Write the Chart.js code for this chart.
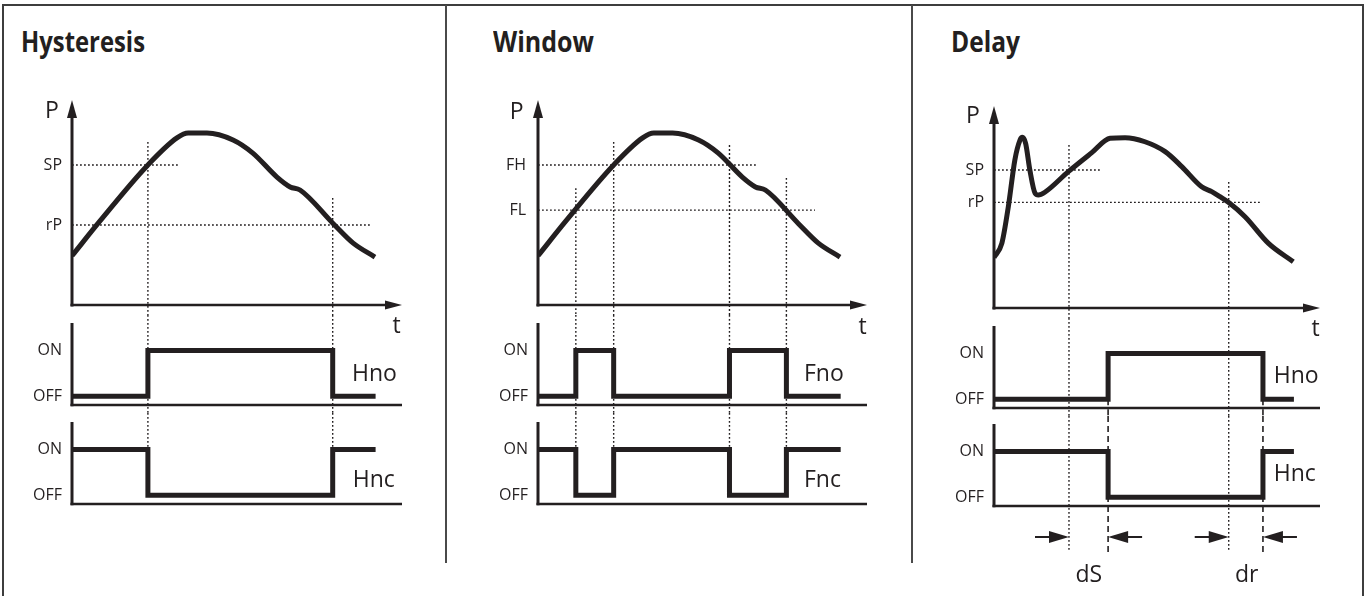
<!DOCTYPE html>
<html>
<head>
<meta charset="utf-8">
<script src="https://cdn.jsdelivr.net/npm/chart.js@4.4.0/dist/chart.umd.min.js"></script>
<style>
html,body{margin:0;padding:0;background:#fff;}
body{width:1365px;height:596px;position:relative;overflow:hidden;font-family:"Open Sans",sans-serif;color:#231f20;}
canvas{position:absolute;}
.frame{position:absolute;left:2px;top:4px;width:1362px;height:600px;border:2px solid #3d3d3d;border-bottom:none;box-sizing:border-box;}
.div{position:absolute;top:5px;width:2px;height:558px;background:#4a4a4a;}
.lbl{position:absolute;white-space:nowrap;line-height:normal;transform-origin:0 0;}
</style>
</head>
<body>
<div class="frame"></div>
<div class="div" style="left:445px"></div>
<div class="div" style="left:911px"></div>
<script>
// ---------------- data ----------------
// time axis runs 0..100 (arbitrary units), pressure axis 0..100
const panelTitles = ['Hysteresis', 'Window', 'Delay'];

// pressure curve used by the Hysteresis and Window diagrams
const curveT = [0, 8.5, 23, 31.8, 35.2, 40.9, 48.8, 54.8, 62.1, 66.1, 69.1, 79.1, 85.2, 91.8];
const curveP = [24, 41, 68.3, 81.5, 83.9, 83.9, 80.5, 74.1, 62.4, 57.6, 56.1, 39.8, 30.2, 23.4];

// pressure curve of the Delay diagram
const delayT = [0, 2.4, 4.4, 6.4, 8.0, 8.7, 9.7, 11.0, 12.6, 13.6, 15.6, 22.8, 30, 35.6, 40.2, 46.3, 52.5, 57.6, 63.7, 66.8, 69.3, 71.9, 77.0, 84.2, 91.8];
const delayP = [25, 32, 50.2, 73.3, 83.2, 84.5, 81.5, 68.3, 56.8, 55.9, 57.3, 67.5, 76.9, 84, 84.3, 82.3, 77.4, 70, 60, 57.6, 55.1, 52.3, 45.2, 32, 22.9];

// threshold levels
const hystLevelNames = ['SP', 'rP'];
const hystLevels = [68.3, 39.0];
const winLevelNames = ['FH', 'FL'];
const winLevels = [68.3, 46.3];
const delayLevelNames = ['SP', 'rP'];
const delayLevels = [68.3, 52.3];

// switching instants
const hystSwitchT = [23, 79];
const winSwitchT = [11.5, 23, 58.2, 75.5];
const delaySwitchT = [23, 72];      // threshold crossings
const delayOutT = [35, 82.5];       // delayed output switching

// output states (1 = ON, 0 = OFF)
const stateNames = ['OFF', 'ON'];
const stateValues = [0, 1];
const hystOutT = [0, 23, 79, 92];
const hnoState = [0, 1, 0, 0];
const hncState = [1, 0, 1, 1];
const winOutT = [0, 11.5, 23, 58.2, 75.5, 92];
const fnoState = [0, 1, 0, 1, 0, 0];
const fncState = [1, 0, 1, 0, 1, 1];
const delayOutStepT = [0, 35, 82.5, 92];
const dHnoState = [0, 1, 0, 0];
const dHncState = [1, 0, 1, 1];

const seriesNames = [['Hno', 'Hnc'], ['Fno', 'Fnc'], ['Hno', 'Hnc']];
const delayNames = ['dS', 'dr'];

// ---------------- drawing helpers ----------------
const INK = '#231f20';
const DOT = [1.8, 2.2];
const DASH = [6, 4];
const AXW = 62, RPAD = 30;

function tri(ctx, tx, ty, dx, dy, len, half) {
  const bx = tx - dx * len, by = ty - dy * len;
  ctx.beginPath();
  ctx.moveTo(tx, ty);
  ctx.lineTo(bx - dy * half, by + dx * half);
  ctx.lineTo(bx + dy * half, by - dx * half);
  ctx.closePath();
  ctx.fill();
}

function makePlugin(cfg) {
  return {
    id: 'diagram',
    beforeDatasetsDraw(chart) {
      const ctx = chart.ctx, a = chart.chartArea, xs = chart.scales.x, ys = chart.scales.y;
      ctx.save();
      ctx.strokeStyle = INK;
      (cfg.hLines || []).forEach(l => {
        const y = ys.getPixelForValue(l.v);
        ctx.setLineDash(DOT); ctx.lineWidth = 1.4;
        ctx.beginPath(); ctx.moveTo(a.left, y); ctx.lineTo(xs.getPixelForValue(l.end), y); ctx.stroke();
      });
      (cfg.vLines || []).forEach(g => {
        const px = xs.getPixelForValue(g.t);
        const y0 = g.fromV != null ? ys.getPixelForValue(g.fromV) : 0;
        let y1;
        if (g.toV != null) y1 = ys.getPixelForValue(g.toV);
        else if (g.below != null) y1 = a.bottom + g.below;
        else y1 = chart.height;
        ctx.setLineDash(g.dash); ctx.lineWidth = g.dash === DASH ? 1.6 : 1.4;
        ctx.beginPath(); ctx.moveTo(px, y0); ctx.lineTo(px, y1); ctx.stroke();
      });
      ctx.restore();
    },
    afterDatasetsDraw(chart) {
      const ctx = chart.ctx, a = chart.chartArea, xs = chart.scales.x;
      ctx.save();
      ctx.strokeStyle = INK; ctx.fillStyle = INK; ctx.setLineDash([]);
      if (cfg.kind === 'P') {
        ctx.lineWidth = 3;
        ctx.beginPath(); ctx.moveTo(a.left, a.bottom + 1.5); ctx.lineTo(a.left, a.top + 12); ctx.stroke();
        tri(ctx, a.left, a.top, 0, -1, 18, 5);
        ctx.lineWidth = 2.5;
        ctx.beginPath(); ctx.moveTo(a.left - 1.5, a.bottom); ctx.lineTo(a.right - 12, a.bottom); ctx.stroke();
        tri(ctx, a.right, a.bottom, 1, 0, 17, 4.5);
      } else {
        ctx.lineWidth = 3;
        ctx.beginPath(); ctx.moveTo(a.left, a.top); ctx.lineTo(a.left, a.bottom + 1.25); ctx.stroke();
        ctx.lineWidth = 2.5;
        ctx.beginPath(); ctx.moveTo(a.left - 1.5, a.bottom); ctx.lineTo(a.right, a.bottom); ctx.stroke();
      }
      (cfg.arrows || []).forEach(ar => {
        const tip = xs.getPixelForValue(ar.t), yy = a.bottom + ar.below;
        ctx.lineWidth = 2;
        ctx.beginPath(); ctx.moveTo(tip - ar.dir * 34, yy); ctx.lineTo(tip - ar.dir * 15, yy); ctx.stroke();
        tri(ctx, tip, yy, ar.dir, 0, 20, 6);
      });
      ctx.restore();
    }
  };
}

function makeChart(box, spec) {
  const c = document.createElement('canvas');
  const left = box.areaL - AXW;
  const width = box.areaR - left + RPAD;
  const height = box.cB - box.cT;
  c.width = width; c.height = height;
  c.style.left = left + 'px'; c.style.top = box.cT + 'px';
  c.style.width = width + 'px'; c.style.height = height + 'px';
  document.body.appendChild(c);
  return new Chart(c, {
    type: 'line',
    data: { datasets: spec.datasets },
    options: {
      responsive: false,
      animation: false,
      events: [],
      layout: { padding: { left: 0, right: RPAD, top: box.aT - box.cT, bottom: box.cB - box.aB } },
      plugins: { legend: { display: false }, tooltip: { enabled: false }, title: { display: false } },
      elements: { point: { radius: 0 } },
      scales: {
        x: { type: 'linear', min: 0, max: 100, display: false },
        y: {
          type: 'linear', min: spec.min, max: spec.max, position: 'left',
          grid: { display: false, drawTicks: false }, border: { display: false },
          ticks: {
            padding: spec.tickPad || 10, autoSkip: false, color: INK,
            font: { family: 'Open Sans', size: 16 },
            callback: (v, i) => spec.tickNames[i]
          },
          afterBuildTicks: s => { s.ticks = spec.tickValues.map(v => ({ value: v })); },
          afterFit: s => { s.width = AXW; s.paddingTop = 0; s.paddingBottom = 0; }
        }
      }
    },
    plugins: [makePlugin(spec.deco)]
  });
}

function curveDs(ts, ps) {
  return {
    data: ts.map((t, i) => ({ x: t, y: ps[i] })),
    borderColor: INK, borderWidth: 5, cubicInterpolationMode: 'monotone',
    borderJoinStyle: 'round', borderCapStyle: 'butt', fill: false
  };
}
function stepDs(ts, vs) {
  return {
    data: ts.map((t, i) => ({ x: t, y: vs[i] })),
    borderColor: INK, borderWidth: 5, stepped: 'before',
    borderJoinStyle: 'miter', borderCapStyle: 'butt', fill: false
  };
}

// ---------------- layout of the three panels ----------------
const layout = [
  { L: 72, R: 402, P: [90, 100, 305, 315], A: [315, 323, 405, 413], B: [413, 422, 504, 560] },
  { L: 538, R: 867, P: [90, 100, 305, 315], A: [315, 323, 405, 413], B: [413, 422, 504, 560] },
  { L: 994, R: 1320, P: [96, 106, 308, 318], A: [318, 326, 408, 416], B: [416, 424, 506, 596] }
];
function box(l, v) { return { areaL: l.L, areaR: l.R, cT: v[0], aT: v[1], aB: v[2], cB: v[3] }; }
const SMIN = -0.19, SMAX = 1.6;

// Hysteresis
const hystTops = [79.5, 52.2];
makeChart(box(layout[0], layout[0].P), {
  min: 0, max: 100, tickNames: hystLevelNames, tickValues: hystLevels,
  datasets: [curveDs(curveT, curveP)],
  deco: { kind: 'P',
    hLines: [{ v: hystLevels[0], end: 32.7 }, { v: hystLevels[1], end: 90.9 }],
    vLines: hystSwitchT.map((t, i) => ({ t, fromV: hystTops[i], dash: DOT })) }
});
makeChart(box(layout[0], layout[0].A), {
  min: SMIN, max: SMAX, tickNames: stateNames, tickValues: stateValues,
  datasets: [stepDs(hystOutT, hnoState)],
  deco: { kind: 'S', vLines: hystSwitchT.map(t => ({ t, dash: DOT })) }
});
makeChart(box(layout[0], layout[0].B), {
  min: SMIN, max: SMAX, tickNames: stateNames, tickValues: stateValues,
  datasets: [stepDs(hystOutT, hncState)],
  deco: { kind: 'S', vLines: hystSwitchT.map(t => ({ t, toV: 1, dash: DOT })) }
});

// Window
const winTops = [57, 79.5, 78, 62];
makeChart(box(layout[1], layout[1].P), {
  min: 0, max: 100, tickNames: winLevelNames, tickValues: winLevels, tickPad: 12,
  datasets: [curveDs(curveT, curveP)],
  deco: { kind: 'P',
    hLines: [{ v: winLevels[0], end: 66.6 }, { v: winLevels[1], end: 84.2 }],
    vLines: winSwitchT.map((t, i) => ({ t, fromV: winTops[i], dash: DOT })) }
});
makeChart(box(layout[1], layout[1].A), {
  min: SMIN, max: SMAX, tickNames: stateNames, tickValues: stateValues,
  datasets: [stepDs(winOutT, fnoState)],
  deco: { kind: 'S', vLines: winSwitchT.map(t => ({ t, dash: DOT })) }
});
makeChart(box(layout[1], layout[1].B), {
  min: SMIN, max: SMAX, tickNames: stateNames, tickValues: stateValues,
  datasets: [stepDs(winOutT, fncState)],
  deco: { kind: 'S', vLines: winSwitchT.map(t => ({ t, toV: 1, dash: DOT })) }
});

// Delay
const delayTops = [80.7, 62.4];
makeChart(box(layout[2], layout[2].P), {
  min: 0, max: 100, tickNames: delayLevelNames, tickValues: delayLevels,
  datasets: [curveDs(delayT, delayP)],
  deco: { kind: 'P',
    hLines: [{ v: delayLevels[0], end: 32.5 }, { v: delayLevels[1], end: 82.2 }],
    vLines: delaySwitchT.map((t, i) => ({ t, fromV: delayTops[i], dash: DOT })) }
});
makeChart(box(layout[2], layout[2].A), {
  min: SMIN, max: SMAX, tickNames: stateNames, tickValues: stateValues,
  datasets: [stepDs(delayOutStepT, dHnoState)],
  deco: { kind: 'S',
    vLines: delaySwitchT.map(t => ({ t, dash: DOT })).concat(delayOutT.map(t => ({ t, fromV: 0, dash: DASH }))) }
});
makeChart(box(layout[2], layout[2].B), {
  min: SMIN, max: SMAX, tickNames: stateNames, tickValues: stateValues,
  datasets: [stepDs(delayOutStepT, dHncState)],
  deco: { kind: 'S',
    vLines: delaySwitchT.map(t => ({ t, below: 44, dash: DOT })).concat(delayOutT.map(t => ({ t, below: 47, dash: DASH }))),
    arrows: [
      { t: delaySwitchT[0], dir: 1, below: 31 }, { t: delayOutT[0], dir: -1, below: 31 },
      { t: delaySwitchT[1], dir: 1, below: 31 }, { t: delayOutT[1], dir: -1, below: 31 }
    ] }
});

// ---------------- text ----------------
function addText(txt, x, baseline, size, weight, targetW) {
  const d = document.createElement('div');
  d.className = 'lbl';
  d.style.font = (weight || 400) + ' ' + size + 'px "Open Sans"';
  d.style.left = x + 'px';
  d.style.top = '0px';
  d.appendChild(document.createTextNode(txt));
  const m = document.createElement('span');
  m.style.cssText = 'display:inline-block;width:0;height:0;vertical-align:baseline;';
  d.appendChild(m);
  document.body.appendChild(d);
  const b = m.offsetTop;
  d.style.top = (baseline - b) + 'px';
  if (targetW) {
    const w = d.getBoundingClientRect().width;
    d.style.transform = 'scaleX(' + (targetW / w) + ')';
  }
}
addText(panelTitles[0], 20.5, 51.7, 29, 700, 124);
addText(panelTitles[1], 492.5, 51.7, 29, 700, 101);
addText(panelTitles[2], 950.5, 51.7, 29, 700, 69);
[[45, 118.3], [509.7, 119.3], [966, 123.3]].forEach(p => addText('P', p[0], p[1], 23));
[[392.5, 333], [858.5, 334], [1311.5, 336]].forEach(p => addText('t', p[0], p[1], 23));
addText(seriesNames[0][0], 352, 381, 23); addText(seriesNames[0][1], 352.7, 486.7, 23);
addText(seriesNames[1][0], 804, 381, 23); addText(seriesNames[1][1], 804, 486.7, 23);
addText(seriesNames[2][0], 1273.7, 383.3, 23); addText(seriesNames[2][1], 1273.7, 481, 23);
addText(delayNames[0], 1075.5, 582, 23); addText(delayNames[1], 1235, 582, 23);
</script>
</body>
</html>
